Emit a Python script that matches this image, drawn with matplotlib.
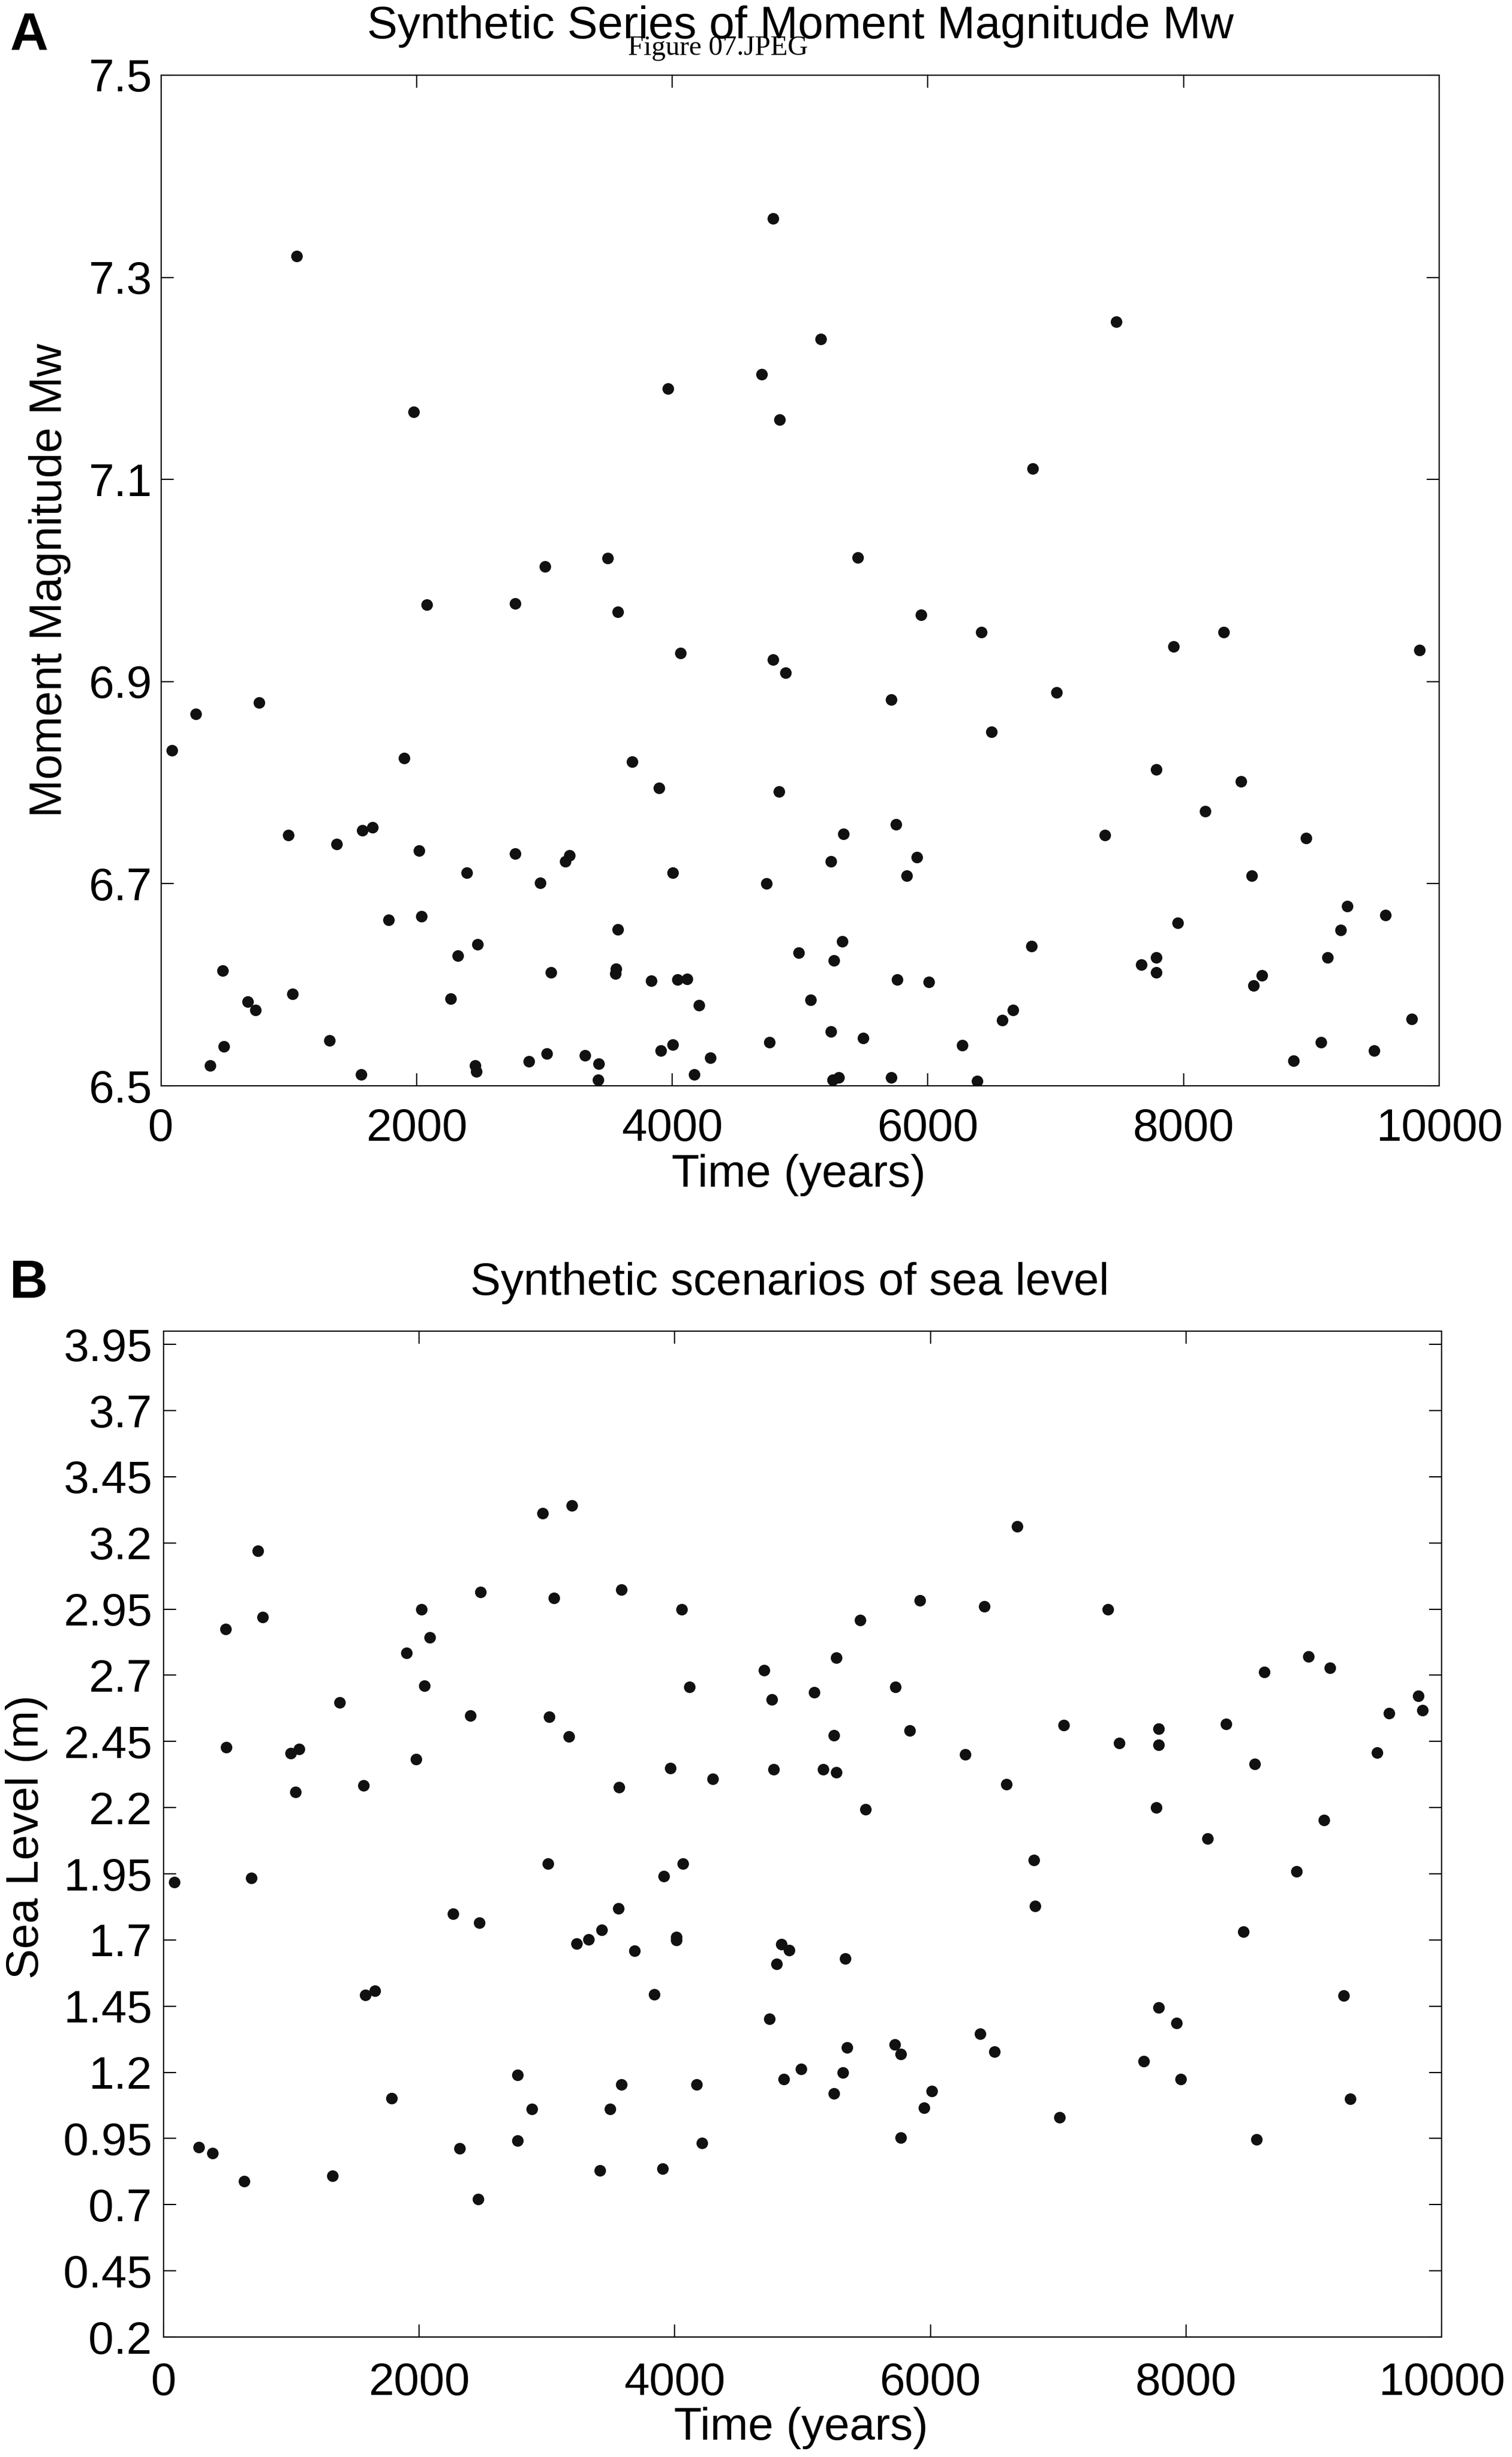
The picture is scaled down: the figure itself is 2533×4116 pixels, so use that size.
import matplotlib
matplotlib.use('Agg')
import matplotlib.pyplot as plt

plt.rcParams['font.family'] = ['Liberation Sans', 'DejaVu Sans']

# ---------------- Panel A data: time (years) and moment magnitude ----------------
time_A = [1064, 1977, 3965, 4700, 4790, 3006, 3497, 4840, 5160, 7473, 6821, 5450,
          2081, 2770, 3574, 4066, 4790, 85, 275, 770, 1903, 3687, 3899, 998, 1373,
          1578, 1656, 2019, 2391, 2770, 2967, 3164, 3195, 4004, 4739, 1783, 2039,
          3574, 2476, 2321, 484, 3052, 3559, 3555, 3838, 4043, 4116, 1029, 681, 739,
          2267, 4209, 1319, 491, 383, 1567, 2460, 2468, 2878, 3017, 3319, 3427, 3420,
          3911, 4004, 4174, 4298, 4762,
          4885, 5714, 5947, 6420, 6496, 7008, 7924, 8313, 9847, 4836, 7786, 8450,
          8168, 7385, 8958, 5340, 5241, 5752, 5912, 5836, 8534, 9279, 9580, 9229,
          9126, 7954, 6809, 5332, 4989, 5267, 7786, 7672, 7786, 5760, 6008, 8611,
          8546, 5084, 6664, 6584, 9786, 5241, 5492, 6267, 9076, 9492, 8859, 5256,
          5302, 5714, 6385]
mw_A = [7.321, 7.167, 7.190, 7.204, 7.358, 7.014, 7.022, 7.159, 7.239, 7.256, 7.111, 7.023,
        6.976, 6.977, 6.969, 6.928, 6.922, 6.832, 6.868, 6.879, 6.824, 6.821, 6.795, 6.748, 6.739,
        6.753, 6.756, 6.733, 6.711, 6.730, 6.701, 6.722, 6.728, 6.711, 6.700, 6.664, 6.668,
        6.655, 6.640, 6.629, 6.614, 6.612, 6.616, 6.611, 6.604, 6.605, 6.606, 6.591, 6.583, 6.575,
        6.586, 6.580, 6.545, 6.539, 6.520, 6.511, 6.520, 6.514, 6.524, 6.532, 6.530, 6.522, 6.506,
        6.535, 6.541, 6.511, 6.528, 6.543,
        6.909, 6.882, 6.966, 6.949, 6.850, 6.889, 6.935, 6.949, 6.931, 6.791, 6.813, 6.801,
        6.772, 6.748, 6.745, 6.749, 6.722, 6.759, 6.726, 6.708, 6.708, 6.678, 6.669, 6.654,
        6.627, 6.661, 6.638, 6.643, 6.632, 6.624, 6.627, 6.620, 6.612, 6.605, 6.603, 6.609,
        6.599, 6.585, 6.575, 6.565, 6.566, 6.554, 6.547, 6.540, 6.543, 6.535, 6.525, 6.506,
        6.508, 6.508, 6.505]

# ---------------- Panel B data: time (years) and sea level (m) ----------------
time_B = [484, 736, 775, 492, 996, 1062, 1031, 1376, 1566, 1899, 2019, 2085, 2039, 1977,
          2399, 2481, 2965, 3194, 3054, 3016, 3171, 3581, 3566, 4054, 4116, 3965, 4295,
          4698, 4760, 4775,
          5090, 5266, 5453, 5247, 5159, 5266, 5495, 5725, 5839, 5916, 6272, 6421, 6593,
          6677, 7044, 7388, 7476, 7786, 7786, 7767, 8168, 8314, 8539, 8612, 8960, 9128,
          9078, 9495, 9587, 9820, 9851,
          85, 686, 275, 384, 632, 1322, 1578, 1655, 1783, 2264, 2469, 2318, 2461, 2771,
          2880, 2771, 3008, 3233, 3326, 3430, 3558, 3686, 3415, 3496, 3581, 3837, 3915,
          4062, 4012, 4012, 3903, 4171, 4213, 4740,
          4795, 4834, 4895, 4853, 4990, 5247, 5316, 5346, 5335, 5721, 5767, 5767, 5950,
          6011, 6390, 6501, 6811, 6818, 7013, 7671, 7786, 7927, 7958, 8451, 8551, 8864,
          9235, 9285]
sea_B = [2.874, 3.169, 2.919, 2.428, 2.406, 2.422, 2.258, 2.598, 2.284, 2.785, 2.950, 2.842,
         2.661, 2.382, 2.547, 3.014, 3.313, 3.341, 2.992, 2.543, 2.468, 3.024, 2.276, 2.950,
         2.655, 2.350, 2.308, 2.719, 2.609, 2.344,
         2.635, 2.766, 2.909, 2.474, 2.344, 2.334, 2.194, 2.655, 2.491, 2.982, 2.402, 2.960,
         2.289, 3.263, 2.511, 2.950, 2.443, 2.497, 2.438, 2.200, 2.082, 2.515, 2.366, 2.713,
         2.770, 2.729, 2.154, 2.407, 2.556, 2.621, 2.567,
         1.919, 1.935, 0.918, 0.895, 0.788, 0.808, 1.493, 1.507, 1.103, 1.799, 1.765, 0.912,
         0.721, 1.190, 1.062, 0.943, 1.988, 1.686, 1.702, 1.738, 1.820, 1.660, 0.830, 1.062,
         1.154, 1.495, 1.941, 1.988, 1.710, 1.700, 0.836, 1.154, 0.932, 1.401,
         1.609, 1.684, 1.661, 1.174, 1.212, 1.119, 1.200, 1.294, 1.629, 1.305, 1.268, 0.954,
         1.067, 1.129, 1.345, 1.278, 2.003, 1.829, 1.030, 1.242, 1.444, 1.386, 1.175, 1.731,
         0.947, 1.958, 1.490, 1.099]

# ---------------- ticks and labels ----------------
x_ticks = [0, 2000, 4000, 6000, 8000, 10000]
x_ticklabels = ['0', '2000', '4000', '6000', '8000', '10000']
yA_ticks = [6.5, 6.7, 6.9, 7.1, 7.3, 7.5]
yA_ticklabels = ['6.5', '6.7', '6.9', '7.1', '7.3', '7.5']
yB_ticks = [0.2, 0.45, 0.7, 0.95, 1.2, 1.45, 1.7, 1.95, 2.2, 2.45, 2.7, 2.95, 3.2, 3.45, 3.7, 3.95]
yB_ticklabels = ['0.2', '0.45', '0.7', '0.95', '1.2', '1.45', '1.7', '1.95', '2.2', '2.45',
                 '2.7', '2.95', '3.2', '3.45', '3.7', '3.95']

W, H = 2533, 4116
fig = plt.figure(figsize=(W / 100, H / 100), dpi=100)
fig.patch.set_facecolor('white')


def fx(px):
    return px / W


def fy(py):
    return 1 - py / H


FS = 55

axA = fig.add_axes([fx(269.5), fy(1819), (2411 - 269.5) / W, (1819 - 126) / H])
axB = fig.add_axes([fx(274), fy(3915), (2415 - 274) / W, (3915 - 2230) / H])

axA.plot(time_A, mw_A, linestyle='none', marker='o', ms=14, color='#111111', mew=0)
axB.plot(time_B, sea_B, linestyle='none', marker='o', ms=14, color='#111111', mew=0)

axA.set_xlim(0, 10000)
axA.set_ylim(6.5, 7.5)
axB.set_xlim(0, 10000)
axB.set_ylim(0.2, 4.0)

for ax, yt, ytl, xpad, ypad in [(axA, yA_ticks, yA_ticklabels, 27, 11),
                                (axB, yB_ticks, yB_ticklabels, 30, 14)]:
    ax.set_xticks(x_ticks)
    ax.set_xticklabels(x_ticklabels)
    ax.set_yticks(yt)
    ax.set_yticklabels(ytl)
    ax.tick_params(direction='in', length=15, width=1.5, top=True, right=True,
                   labelsize=FS, colors='black')
    ax.tick_params(axis='x', pad=xpad)
    ax.tick_params(axis='y', pad=ypad)
    for s in ax.spines.values():
        s.set_linewidth(1.5)
        s.set_color('black')

# titles
fig.text(fx(1341), fy(64), 'Synthetic Series of Moment Magnitude Mw', fontsize=FS,
         ha='center', va='baseline')
fig.text(fx(1323), fy(2169), 'Synthetic scenarios of sea level', fontsize=FS,
         ha='center', va='baseline')

# x labels
fig.text(fx(1338), fy(1988), 'Time (years)', fontsize=FS, ha='center', va='baseline')
fig.text(fx(1342), fy(4087), 'Time (years)', fontsize=FS, ha='center', va='baseline')

# y labels
fig.text(fx(48), fy(972), 'Moment Magnitude Mw', fontsize=FS, rotation=90,
         ha='left', va='center')
fig.text(fx(9), fy(3077), 'Sea Level (m)', fontsize=FS, rotation=90,
         ha='left', va='center')

# panel letters
fig.text(fx(17), fy(84), 'A', fontsize=64, fontweight='bold', ha='left', va='baseline')
fig.text(fx(16), fy(2174), 'B', fontsize=64, fontweight='bold', ha='left', va='baseline')

# file-name stamp (overlaps the title in the original as well)
fig.text(fx(1203), fy(92), 'Figure 07.JPEG', fontsize=34, ha='center', va='baseline',
         family=['Liberation Serif', 'DejaVu Serif'])

fig.savefig('out.png', dpi=100, facecolor='white')
